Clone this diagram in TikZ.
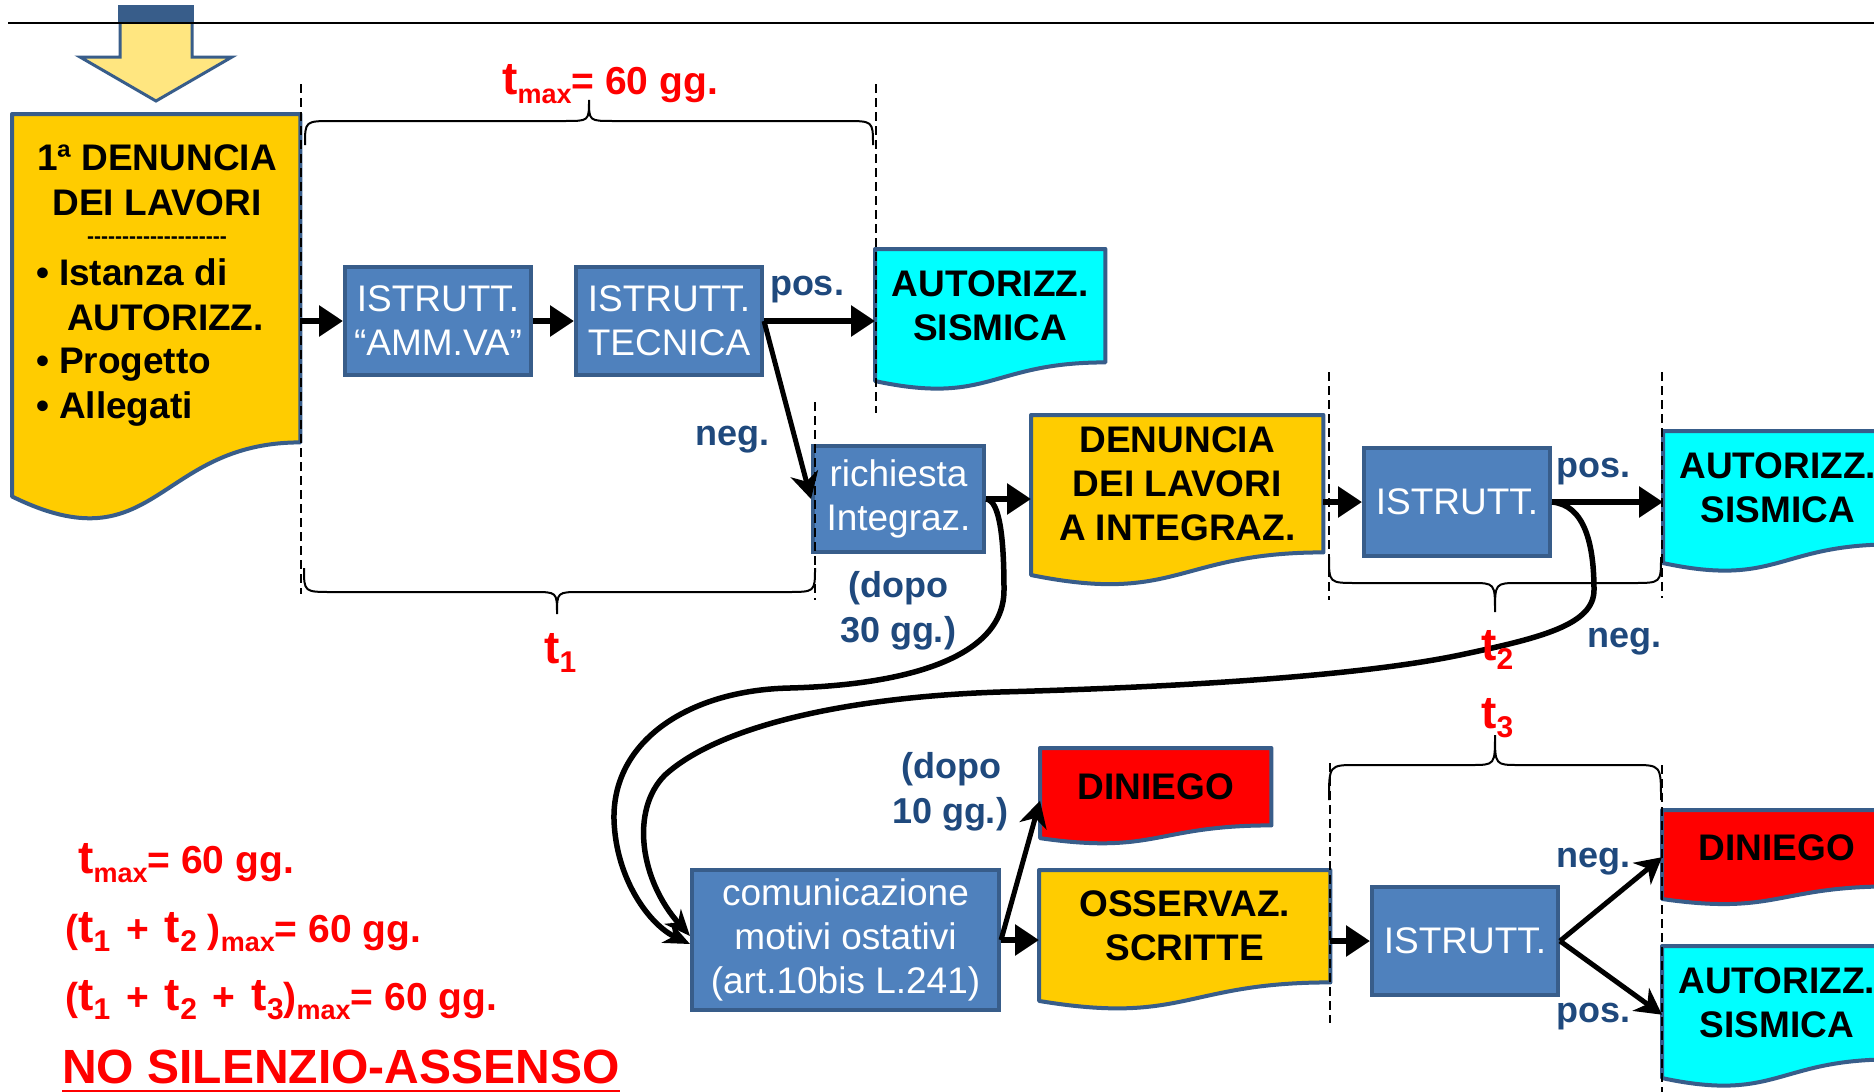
\documentclass[tikz,border=0pt]{standalone}
\usepackage{fontspec}
\setmainfont{Liberation Sans}
\usetikzlibrary{arrows.meta,calc,backgrounds}

\definecolor{boxblue}{HTML}{4F81BD}
\definecolor{edgeblue}{HTML}{385D8A}
\definecolor{docyellow}{HTML}{FFCC00}
\definecolor{doccyan}{HTML}{00FFFF}
\definecolor{docred}{HTML}{FF0000}
\definecolor{labblue}{HTML}{1F497D}
\definecolor{arrowyellow}{HTML}{FFE680}

\newcommand\hyx{\mbox{-}\mbox{-}\mbox{-}\mbox{-}\mbox{-}}
\newcommand\tT{{\fontsize{46}{46}\selectfont t}}
\newcommand\tS[1]{\raisebox{-9pt}{\fontsize{27}{27}\selectfont #1}}
\newcommand\tN[1]{\raisebox{-9pt}{\fontsize{30}{30}\selectfont #1}}
\newcommand\pl{\hspace{16pt}+\hspace{16pt}}

\newcommand\docbg[2]{%
  \begin{scope}[on background layer]
  \filldraw[draw=edgeblue, line width=4pt, line join=round, fill=#2]
    (#1.north west) -- (#1.north east) -- (#1.south east)
    .. controls (#1.south) and ($(#1.north)!1.381!(#1.south)$) ..
    ($(#1.north west)!1.1646!(#1.south west)$) -- cycle;
  \end{scope}}

\newcommand\hbrace[6]{% x1,x2,yh,yend,xm,ytip
  \draw[bracest] (#1,#4) .. controls (#1,#3) .. (#1+28,#3) -- (#5-24,#3)
    .. controls (#5,#3) .. (#5,#6) .. controls (#5,#3) .. (#5+24,#3)
    -- (#2-28,#3) .. controls (#2,#3) .. (#2,#4);}

\tikzset{
  bbox/.style={draw=edgeblue, fill=boxblue, line width=4pt, text=white, align=center,
    font=\fontsize{37}{44}\selectfont, inner sep=0pt},
  doc/.style={inner sep=0pt, align=center, anchor=north west,
    font=\fontsize{37}{44}\selectfont\bfseries},
  dtxt/.style={inner sep=0pt, font=\fontsize{37}{44}\selectfont\bfseries},
  lab/.style={text=labblue, font=\fontsize{36}{44}\selectfont\bfseries, inner sep=0pt, anchor=base},
  redt/.style={text=docred, font=\fontsize{39}{46}\selectfont\bfseries, inner sep=0pt, anchor=base west},
  vdash/.style={line width=2pt, dash pattern=on 9pt off 5pt},
  bracest/.style={line width=2pt},
  flow/.style={line width=6pt, -{Triangle[length=24pt,width=30pt]}},
  flowthin/.style={line width=5pt, -{Stealth[length=26pt,width=28pt,inset=8pt]}},
  curvearrow/.style={line width=5.5pt, -{Stealth[length=26pt,width=22pt,inset=8pt]}},
}

\begin{document}
\begin{tikzpicture}[x=1pt,y=-1pt]
\useasboundingbox (0,0) rectangle (1874,1092);
\begin{scope}[on background layer]
  \fill[white] (0,0) rectangle (1874,1092);
\end{scope}

% top block arrow
\filldraw[fill=arrowyellow, draw=edgeblue, line width=3pt, line join=miter]
  (120,7) -- (192,7) -- (192,57) -- (232,57) -- (156,101) -- (80,57) -- (120,57) -- cycle;
\fill[edgeblue] (118,5) rectangle (194,23);
\draw[line width=2.5pt] (8,23) -- (1874,23);

% document shapes (text area rectangles)
\node[doc, minimum width=288pt, minimum height=328pt] (D1) at (12,114) {};
\docbg{D1}{docyellow}
\node[doc, minimum width=230pt, minimum height=113pt] (AUT1) at (875,249) {AUTORIZZ.\\SISMICA};
\docbg{AUT1}{doccyan}
\node[doc, minimum width=292pt, minimum height=137pt] (DEN2) at (1031,415) {DENUNCIA\\DEI LAVORI\\A INTEGRAZ.};
\docbg{DEN2}{docyellow}
\node[doc, minimum width=229pt, minimum height=113pt] (AUT2) at (1663,431) {AUTORIZZ.\\SISMICA};
\docbg{AUT2}{doccyan}
\node[doc, minimum width=231pt, minimum height=77pt] (DIN1) at (1040,748) {DINIEGO};
\docbg{DIN1}{docred}
\node[doc, minimum width=291pt, minimum height=112pt] (OSS) at (1039,870) {OSSERVAZ.\\SCRITTE};
\docbg{OSS}{docyellow}
\node[doc, minimum width=229pt, minimum height=76pt] (DIN2) at (1662,810) {DINIEGO};
\docbg{DIN2}{docred}
\node[doc, minimum width=229pt, minimum height=113pt] (AUT3) at (1662,946) {AUTORIZZ.\\SISMICA};
\docbg{AUT3}{doccyan}

% text of the first document
\node[dtxt, anchor=base] (d1a) at (157,170) {1ª DENUNCIA};
\node[dtxt, anchor=base] (d1b) at (157,215) {DEI LAVORI};
\node[inner sep=0pt, anchor=base, font=\fontsize{21}{21}\selectfont\bfseries] (d1c) at (157,243) {\hyx\hyx\hyx\hyx};
\node[dtxt, anchor=base west] (d1d) at (36,285) {\textbullet\hspace{10pt}Istanza di};
\node[dtxt, anchor=base west] (d1e) at (67,330) {AUTORIZZ.};
\node[dtxt, anchor=base west] (d1f) at (36,373) {\textbullet\hspace{10pt}Progetto};
\node[dtxt, anchor=base west] (d1g) at (36,418) {\textbullet\hspace{10pt}Allegati};

% blue process boxes
\node[bbox, minimum width=186pt, minimum height=108pt] (B1) at (438,321) {ISTRUTT.\\“AMM.VA”};
\node[bbox, minimum width=186pt, minimum height=108pt] (B2) at (669,321) {ISTRUTT.\\TECNICA};
\node[bbox, minimum width=171pt, minimum height=106pt] (B3) at (898.5,499) {richiesta\\Integraz.};
\node[bbox, minimum width=186pt, minimum height=108pt] (B4) at (1457,502) {ISTRUTT.};
\node[bbox, minimum width=307pt, minimum height=140pt] (B5) at (845.5,940) {comunicazione\\motivi ostativi\\(art.10bis L.241)};
\node[bbox, minimum width=186pt, minimum height=108pt] (B6) at (1465,941) {ISTRUTT.};

% dashed time markers
\draw[vdash] (301,84) -- (301,594);
\draw[vdash] (876,84) -- (876,413);
\draw[vdash] (815,402) -- (815,600);
\draw[vdash] (1329,372) -- (1329,600);
\draw[vdash] (1662,372) -- (1662,598);
\draw[vdash] (1330,763) -- (1330,1023);
\draw[vdash] (1662,765) -- (1662,1092);

% braces
\hbrace{305}{873}{121}{145}{589}{100}
\hbrace{304}{815}{592}{568}{557}{614}
\hbrace{1329}{1661}{583}{557}{1495}{612}
\hbrace{1329}{1661}{765}{800}{1495}{735}

% connectors
\draw[flow] (D1.east |- B1.west) -- (B1.west);
\draw[flow] (B1.east) -- (B2.west);
\draw[flow] (B2.east) -- (B2.east -| AUT1.west);
\draw[flowthin] (B2.east) -- (B3.west);
\draw[flow] (B3.east) -- (B3.east -| DEN2.west);
\draw[flow] (DEN2.east |- B4.west) -- (B4.west);
\draw[flow] (B4.east) -- (B4.east -| AUT2.west);
\draw[curvearrow] (B3.east) .. controls (1000,500) and (1004,540) .. (1004,590)
  .. controls (1004,660) and (900,685) .. (790,688)
  .. controls (690,690) and (612,740) .. (614,820)
  .. controls (616,880) and (650,925) .. ([yshift=-4pt]B5.west);
\draw[curvearrow] (B4.east) .. controls (1585,505) and (1594,545) .. (1594,590)
  .. controls (1594,625) and (1540,638) .. (1460,655)
  .. controls (1350,678) and (1150,688) .. (1000,692)
  .. controls (850,697) and (720,725) .. (665,775)
  .. controls (630,810) and (640,880) .. ([yshift=4pt]B5.west);
\draw[flow] (B5.east) -- (B5.east -| OSS.west);
\draw[flowthin] (B5.east) -- ([yshift=-14pt]DIN1.west);
\draw[flow] (OSS.east |- B6.west) -- (B6.west);
\draw[flowthin] (B6.east) -- ([yshift=-9pt]DIN2.west);
\draw[flowthin] (B6.east) -- ([yshift=-12pt]AUT3.west);

% blue labels
\node[lab] (pos1) at (807,295) {pos.};
\node[lab] (neg1) at (732,445) {neg.};
\node[lab] (d30a) at (898,597) {(dopo};
\node[lab] (d30b) at (898,642) {30 gg.)};
\node[lab] (pos2) at (1593,477) {pos.};
\node[lab] (neg2) at (1624,647) {neg.};
\node[lab] (d10a) at (951,778) {(dopo};
\node[lab] (d10b) at (950,823) {10 gg.)};
\node[lab] (neg3) at (1593,867) {neg.};
\node[lab] (pos3) at (1593,1022) {pos.};

% red time labels
\node[redt] (tmaxtop) at (502,94) {\tT\tS{max}= 60 gg.};
\node[redt] (t1) at (544,663) {\tT\tN{1}};
\node[redt] (t2) at (1481,660) {\tT\tN{2}};
\node[redt] (t3) at (1481,728) {\tT\tN{3}};
\node[redt] (r1) at (78,873) {\tT\tS{max}= 60 gg.};
\node[redt] (r2) at (65,942) {(\tT\tN{1}\pl\tT\tN{2} )\tS{max}= 60 gg.};
\node[redt] (r3) at (65,1010) {(\tT\tN{1}\pl\tT\tN{2}\pl\tT\tN{3})\tS{max}= 60 gg.};
\node[redt, font=\fontsize{48}{50}\selectfont\bfseries] (nosil) at (62,1083) {NO SILENZIO-ASSENSO};
\draw[docred, line width=3pt] ([yshift=-8pt]nosil.base west) -- ([yshift=-8pt]nosil.base east);
\end{tikzpicture}
\end{document}
